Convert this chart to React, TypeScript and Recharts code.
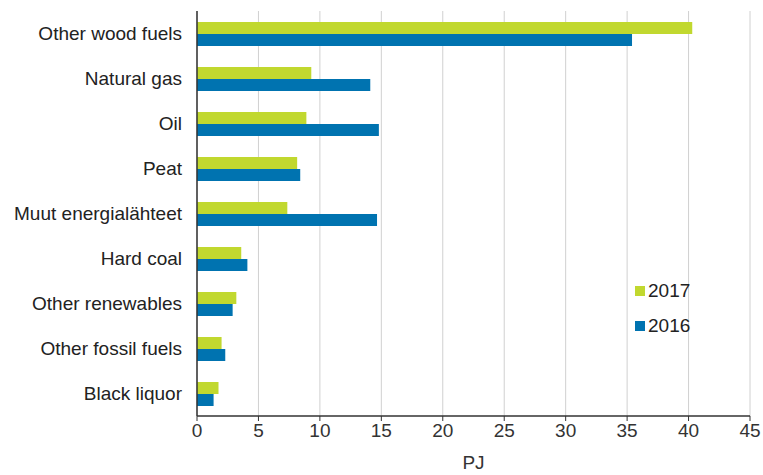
import { BarChart, Bar, XAxis, YAxis, CartesianGrid } from 'recharts'

const categories = [
  'Other wood fuels',
  'Natural gas',
  'Oil',
  'Peat',
  'Muut energialähteet',
  'Hard coal',
  'Other renewables',
  'Other fossil fuels',
  'Black liquor',
]
const values2017 = [40.3, 9.3, 8.9, 8.15, 7.35, 3.6, 3.2, 2.0, 1.75]
const values2016 = [35.4, 14.1, 14.8, 8.4, 14.65, 4.1, 2.9, 2.3, 1.35]
const xTicks = [0, 5, 10, 15, 20, 25, 30, 35, 40, 45]

const series = [
  { key: 'y2017', label: '2017', color: '#c1d82f' },
  { key: 'y2016', label: '2016', color: '#0073b0' },
]

const data = categories.map((name, i) => ({
  name,
  y2017: values2017[i],
  y2016: values2016[i],
}))

const font = 'Arial, "Liberation Sans", sans-serif'

export default function App() {
  return (
    <div style={{ position: 'absolute', left: 0, top: 0, width: 763, height: 475, background: '#fff', fontFamily: font }}>
      <BarChart
        width={763}
        height={475}
        data={data}
        layout="vertical"
        margin={{ top: 11, right: 13, left: 0, bottom: 2 }}
        barSize={12}
        barGap={0}
      >
        <CartesianGrid horizontal={false} stroke="#d0d0d0" />
        <XAxis
          type="number"
          domain={[0, 45]}
          ticks={xTicks}
          interval={0}
          tick={{ fill: '#333', fontSize: 19, fontFamily: font }}
          tickLine={{ stroke: '#333' }}
          tickSize={5}
          tickMargin={3}
          axisLine={{ stroke: '#333', strokeWidth: 1.5 }}
          height={57}
          label={{ value: 'PJ', position: 'insideBottom', offset: 4, fill: '#333', fontSize: 19, fontFamily: font }}
        />
        <YAxis
          type="category"
          dataKey="name"
          width={197}
          tick={{ fill: '#222', fontSize: 19, fontFamily: font }}
          tickLine={false}
          tickMargin={9}
          axisLine={{ stroke: '#333', strokeWidth: 1.5 }}
        />
        {series.map((s) => (
          <Bar key={s.key} dataKey={s.key} name={s.label} fill={s.color} isAnimationActive={false} />
        ))}
      </BarChart>
      <div style={{ position: 'absolute', left: 635, top: 273, fontSize: 19, color: '#222' }}>
        {series.map((s) => (
          <div key={s.key} style={{ display: 'flex', alignItems: 'center', height: 35 }}>
            <div style={{ width: 10, height: 10, background: s.color, marginRight: 3 }} />
            <span>{s.label}</span>
          </div>
        ))}
      </div>
    </div>
  )
}
